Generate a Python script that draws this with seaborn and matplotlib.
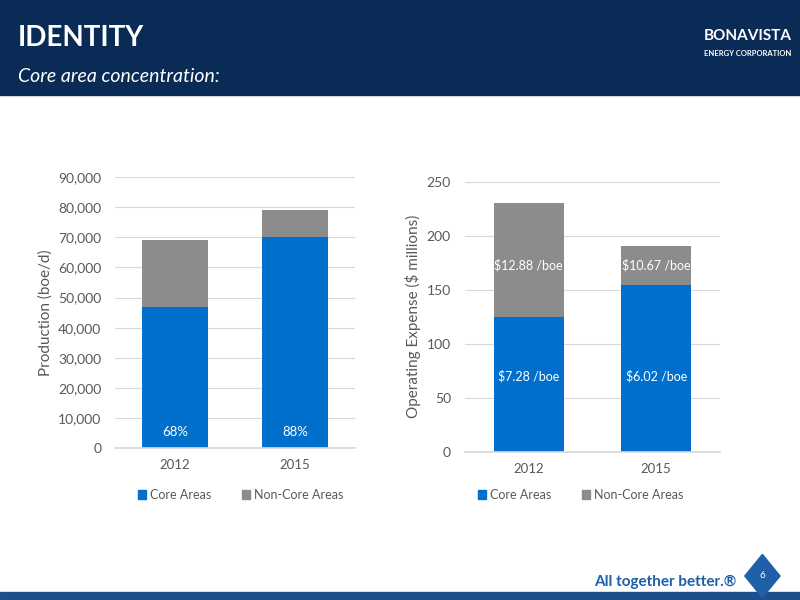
import numpy as np
import pandas as pd
import seaborn as sns
from matplotlib import pyplot as plt
from matplotlib.patches import Polygon

sns.set_theme(style="white")
plt.rcParams['font.family'] = ['Lato', 'DejaVu Sans']

years = ["2012", "2015"]
prod_core = [47000, 70000]
prod_noncore = [22000, 9000]
prod_labels = ["68%", "88%"]
opex_core = [125, 154]
opex_noncore = [105, 37]
opex_core_labels = ["$7.28 /boe", "$6.02 /boe"]
opex_noncore_labels = ["$12.88 /boe", "$10.67 /boe"]

BLUE = "#0070cc"
GREY = "#8c8c8c"
NAVY = "#0b2b57"

fig = plt.figure(figsize=(8, 6), dpi=100)

# header band
fig.patches.append(plt.Rectangle((0, 1 - 95 / 600), 1, 95 / 600, transform=fig.transFigure,
                                 color=NAVY, zorder=0))
fig.text(0.022, 0.937, "IDENTITY", color="white", fontsize=20, fontweight="bold", va="center")
fig.text(0.022, 0.872, "Core area concentration:", color="white", fontsize=14, style="italic", va="center")
fig.text(0.935, 0.94, "BONAVISTA", color="white", fontsize=11, fontweight="bold", ha="center", va="center")
fig.text(0.935, 0.91, "ENERGY CORPORATION", color="white", fontsize=5.5, fontweight="bold",
         ha="center", va="center")

# footer
fig.patches.append(plt.Rectangle((0, 0), 1, 8 / 600, transform=fig.transFigure, color="#1f4e8c"))
fig.text(0.92, 0.03, "All together better.®", color="#1f5fa8", fontsize=11, fontweight="bold",
         ha="right", va="center")
fig.patches.append(Polygon([[0.953, 0.076], [0.975, 0.04], [0.953, 0.004], [0.931, 0.04]],
                           closed=True, transform=fig.transFigure, color="#1f5fa8"))
fig.text(0.953, 0.04, "6", color="white", fontsize=7, ha="center", va="center")


def stacked(ax, core, noncore, ymax, step, ylabel, fmt):
    total = [c + n for c, n in zip(core, noncore)]
    df = pd.DataFrame({"year": years, "total": total, "core": core})
    sns.barplot(data=df, x="year", y="total", color=GREY, width=0.55, saturation=1, linewidth=0, ax=ax)
    sns.barplot(data=df, x="year", y="core", color=BLUE, width=0.55, saturation=1, linewidth=0, ax=ax)
    ax.set_ylim(0, ymax)
    ax.set_xlim(-0.5, 1.5)
    ax.set_yticks(np.arange(0, ymax + 1, step))
    ax.set_yticklabels([fmt(v) for v in np.arange(0, ymax + 1, step)], color="#595959", fontsize=10)
    ax.tick_params(axis="x", colors="#595959", labelsize=9.5, length=0, pad=8)
    ax.tick_params(axis="y", length=0, pad=10)
    ax.yaxis.grid(True, color="#d9d9d9", lw=0.8)
    ax.set_axisbelow(True)
    for s in ["top", "right", "left"]:
        ax.spines[s].set_visible(False)
    ax.spines["bottom"].set_color("#d9d9d9")
    ax.set_xlabel("")
    ax.set_ylabel(ylabel, color="#595959", fontsize=11, labelpad=4)
    return total


ax1 = fig.add_axes([0.144, 0.253, 0.30, 0.452])
stacked(ax1, prod_core, prod_noncore, 90000, 10000, "Production (boe/d)", lambda v: f"{int(v):,}")
for i, lab in enumerate(prod_labels):
    ax1.text(i, 5500, lab, color="white", fontsize=9.5, ha="center", va="center")

ax2 = fig.add_axes([0.581, 0.247, 0.319, 0.45])
tot = stacked(ax2, opex_core, opex_noncore, 250, 50, "Operating Expense ($ millions)", lambda v: f"{int(v)}")
for i in range(2):
    ax2.text(i, 70, opex_core_labels[i], color="white", fontsize=9,
             ha="center", va="center")
    ax2.text(i, 173, opex_noncore_labels[i], color="white", fontsize=9, ha="center", va="center")

for ax, x0 in [(ax1, 0.172), (ax2, 0.597)]:
    fig.patches.append(plt.Rectangle((x0, 0.168), 0.011, 0.015, transform=fig.transFigure, color=BLUE))
    fig.text(x0 + 0.015, 0.175, "Core Areas", color="#595959", fontsize=9, va="center")
    fig.patches.append(plt.Rectangle((x0 + 0.13, 0.168), 0.011, 0.015, transform=fig.transFigure, color=GREY))
    fig.text(x0 + 0.145, 0.175, "Non-Core Areas", color="#595959", fontsize=9, va="center")

fig.savefig("out.png", dpi=100)
